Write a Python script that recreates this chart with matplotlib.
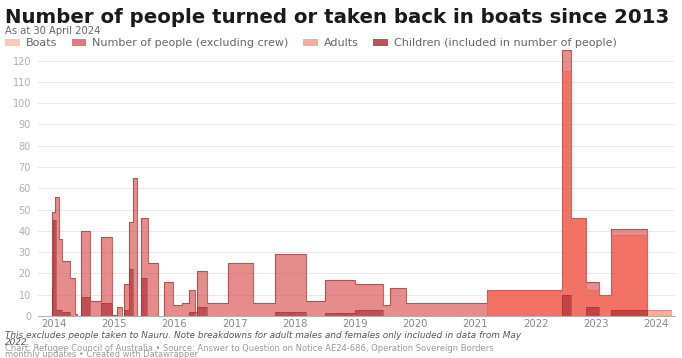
import matplotlib

matplotlib.use("Agg")
import matplotlib.pyplot as plt
import numpy as np
from matplotlib.patches import Patch

# step data: start of each period (decimal year) + value; last edge closes the series
people_x = [2013.96, 2014.017, 2014.088, 2014.133, 2014.266, 2014.349, 2014.382, 2014.444,
            2014.598, 2014.781, 2014.963, 2015.047, 2015.135, 2015.168, 2015.241, 2015.307,
            2015.384, 2015.45, 2015.561, 2015.723, 2015.827, 2015.972, 2016.121, 2016.243,
            2016.334, 2016.375, 2016.533, 2016.89, 2017.306, 2017.671, 2018.186, 2018.502,
            2019.0, 2019.465, 2019.581, 2019.847, 2021.198, 2022.444, 2022.583, 2022.837,
            2023.045, 2023.252, 2023.845]
people_y = [49, 56, 36, 26, 18, 1, 0, 40, 7, 37, 0.5, 4, 0, 15, 44, 65, 0, 46, 25, 0, 16, 5,
            6, 12, 2, 21, 6, 25, 6, 29, 7, 17, 15, 5, 13, 6, 12, 125, 46, 16, 10, 41]

adults_x = [2021.198, 2022.444, 2022.583, 2022.837, 2023.045, 2023.252, 2023.845, 2024.244]
adults_y = [12, 115, 46, 12, 10, 38, 3]

children_x = [2013.96, 2013.98, 2014.03, 2014.133, 2014.266, 2014.444, 2014.598, 2014.781,
              2014.963, 2015.168, 2015.241, 2015.307, 2015.45, 2015.539, 2016.243, 2016.334,
              2016.375, 2016.533, 2017.671, 2018.186, 2018.502, 2019.0, 2019.465, 2022.444,
              2022.583, 2022.837, 2023.045, 2023.252, 2023.845]
children_y = [13, 45, 3, 2, 0, 9, 0, 6, 0, 3, 22, 0, 18, 0, 2, 0, 4, 0, 2, 0, 1.5, 3, 0, 10,
              0, 4, 0, 3]

years = list(range(2014, 2025))
y_ticks = list(range(0, 130, 10))
legend_labels = ["Boats", "Number of people (excluding crew)", "Adults",
                 "Children (included in number of people)"]
legend_colors = ["#f6c9b9", "#e07b80", "#f4aca6", "#b9545e"]

note_lines = ["This excludes people taken to Nauru. Note breakdowns for adult males and "
              "females only included in data from May", "2022."]
credit_lines = ["Chart: Refugee Council of Australia \u2022 Source: Answer to Question on "
                "Notice AE24-686, Operation Sovereign Borders",
                "monthly updates \u2022 Created with Datawrapper"]

W, H = 682, 358
fig = plt.figure(figsize=(W / 100, H / 100), dpi=100)
ax = fig.add_axes([38 / W, 1 - 316 / H, 637 / W, 266 / H])


def step(ax, xs, ys, color, alpha, edge, lw):
    xs = np.asarray(xs, float)
    ys = np.append(np.asarray(ys, float), ys[-1])
    ax.fill_between(xs, ys, step="post", color=color, alpha=alpha, lw=0, zorder=2)
    ax.step(np.r_[xs[0], xs, xs[-1]], np.r_[0, ys, 0], where="post", color=edge, lw=lw,
            alpha=0.8, zorder=3)


step(ax, people_x, people_y, "#d94f4f", 0.65, "#a84444", 0.8)
step(ax, adults_x, adults_y, "#ff5a40", 0.5, "#d86a66", 0.5)
step(ax, children_x, children_y, "#a01e28", 0.55, "#9a2a30", 0.4)

ax.set_xlim(2013.734, 2024.315)
ax.set_ylim(0, 125)
ax.set_yticks(y_ticks)
ax.set_yticklabels([str(v) for v in y_ticks])
ax.set_xticks(years)
ax.set_xticklabels([str(y) for y in years])
ax.grid(axis="y", color="#e8e8e8", lw=0.7, zorder=0)
for s in ["top", "right", "left"]:
    ax.spines[s].set_visible(False)
ax.spines["bottom"].set_color("#b0b0b0")
ax.spines["bottom"].set_linewidth(0.8)
ax.tick_params(axis="y", length=0, pad=5, labelsize=7, labelcolor="#b0b0b0")
ax.tick_params(axis="x", length=0, pad=2, labelsize=7.3, labelcolor="#8a8a8a")

fig.text(5 / W, 1 - 23 / H, "Number of people turned or taken back in boats since 2013",
         fontsize=14.2, fontweight="bold", color="#1a1a1a")
fig.text(5 / W, 1 - 34 / H, "As at 30 April 2024", fontsize=7.2, color="#666666")

handles = [Patch(facecolor=c, edgecolor="none") for c in legend_colors]
fig.legend(handles, legend_labels, loc="upper left", bbox_to_anchor=(1 / W, 1 - 34 / H),
           ncol=4, frameon=False, fontsize=8, labelcolor="#666666", handlelength=1.3,
           handleheight=0.7, handletextpad=0.55, columnspacing=1.3, borderaxespad=0)

# footer: one text per line, baselines ~7 px apart like the reference
for line, base in zip(note_lines, [338, 344.8]):
    fig.text(5 / W, 1 - base / H, line, fontsize=6.4, style="italic", color="#555555",
             va="baseline")
for line, base in zip(credit_lines, [351.2, 356.6]):
    fig.text(5 / W, 1 - base / H, line, fontsize=6.0, color="#9a9a9a", va="baseline")

fig.savefig("out.png", dpi=100)
